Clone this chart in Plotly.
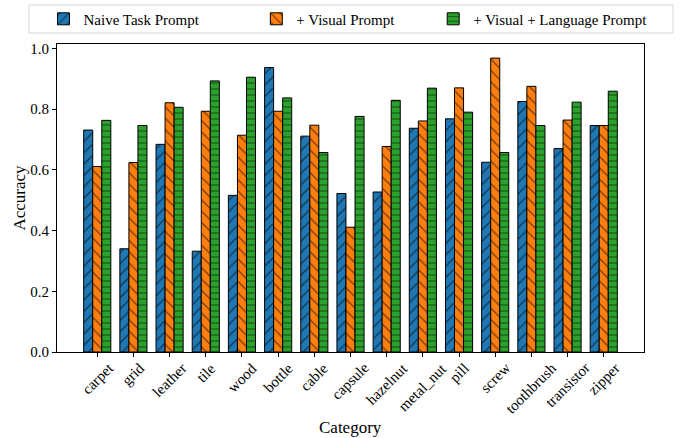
import plotly.graph_objects as go

categories = ["carpet", "grid", "leather", "tile", "wood", "bottle", "cable", "capsule",
              "hazelnut", "metal_nut", "pill", "screw", "toothbrush", "transistor", "zipper"]
naive = [0.731, 0.340, 0.684, 0.332, 0.516, 0.937, 0.711, 0.522,
         0.527, 0.737, 0.768, 0.625, 0.825, 0.670, 0.746]
visual = [0.611, 0.624, 0.821, 0.793, 0.714, 0.793, 0.747, 0.411,
          0.677, 0.761, 0.870, 0.968, 0.875, 0.764, 0.746]
visual_lang = [0.763, 0.746, 0.806, 0.893, 0.905, 0.837, 0.657, 0.776,
               0.829, 0.869, 0.790, 0.657, 0.746, 0.823, 0.859]
series_names = ["Naive Task Prompt", "+ Visual Prompt", "+ Visual + Language Prompt"]
y_ticks = [0.0, 0.2, 0.4, 0.6, 0.8, 1.0]

FONT = "Liberation Serif, Times New Roman, serif"
colors = ["#1f77b4", "#ff7f0e", "#2ca02c"]
patterns = [("/", 8), ("\\", 8), ("-", 6)]
legend_pad = [14, 9, 0]  # trailing non-breaking spaces to space legend entries

fig = go.Figure()
for vals, name, col, (shape, size), pad in zip([naive, visual, visual_lang], series_names,
                                               colors, patterns, legend_pad):
    fig.add_trace(go.Bar(
        x=categories, y=vals, name=name + "\u00a0" * pad,
        marker=dict(color=col, line=dict(color="black", width=1),
                    pattern=dict(shape=shape, size=size, solidity=0.18,
                                 fgcolor="black", bgcolor=col, fillmode="overlay")),
    ))

# rotated category labels centred under each tick (matplotlib style)
for c in categories:
    fig.add_annotation(x=c, y=0, xref="x", yref="paper", text=c, showarrow=False,
                       textangle=-45, xanchor="center", yanchor="top", yshift=-5,
                       font=dict(family=FONT, size=15, color="black"))

fig.add_annotation(x=0.5, y=-0.245, xref="paper", yref="paper", text="Category",
                   showarrow=False, xanchor="center", yanchor="middle",
                   font=dict(family=FONT, size=17, color="black"))

# legend frame
fig.add_shape(type="rect", xref="paper", yref="paper",
              x0=-0.0477, x1=1.0494, y0=1.0357, y1=1.1266,
              line=dict(color="#d5d5d5", width=1), fillcolor="white", layer="below")

fig.update_layout(
    width=685, height=438,
    margin=dict(l=57, r=41, t=44, b=86, autoexpand=False),
    paper_bgcolor="white", plot_bgcolor="white",
    barmode="group", bargap=0.25, bargroupgap=0,
    font=dict(family=FONT, size=15, color="black"),
    legend=dict(orientation="h", x=-0.023, y=1.081, xanchor="left", yanchor="middle",
                bgcolor="rgba(0,0,0,0)", borderwidth=0,
                font=dict(family=FONT, size=15), itemwidth=30,
                traceorder="normal"),
    xaxis=dict(range=[-1.1125, 15.1125], showticklabels=False, ticks="outside",
               ticklen=4, tickcolor="black", showline=True, linecolor="black",
               linewidth=1, mirror=True, showgrid=False),
    yaxis=dict(range=[0, 1.0145], tickvals=y_ticks, tickformat=".1f", ticks="outside",
               ticklen=4, tickcolor="black", showline=True, linecolor="black",
               linewidth=1, mirror=True, showgrid=False, zeroline=False,
               tickfont=dict(family=FONT, size=15),
               title=dict(text="Accuracy", font=dict(family=FONT, size=17), standoff=0)),
)

fig.write_html("out.html", config={"displayModeBar": False},
               post_script="document.body.style.margin='0px';")
